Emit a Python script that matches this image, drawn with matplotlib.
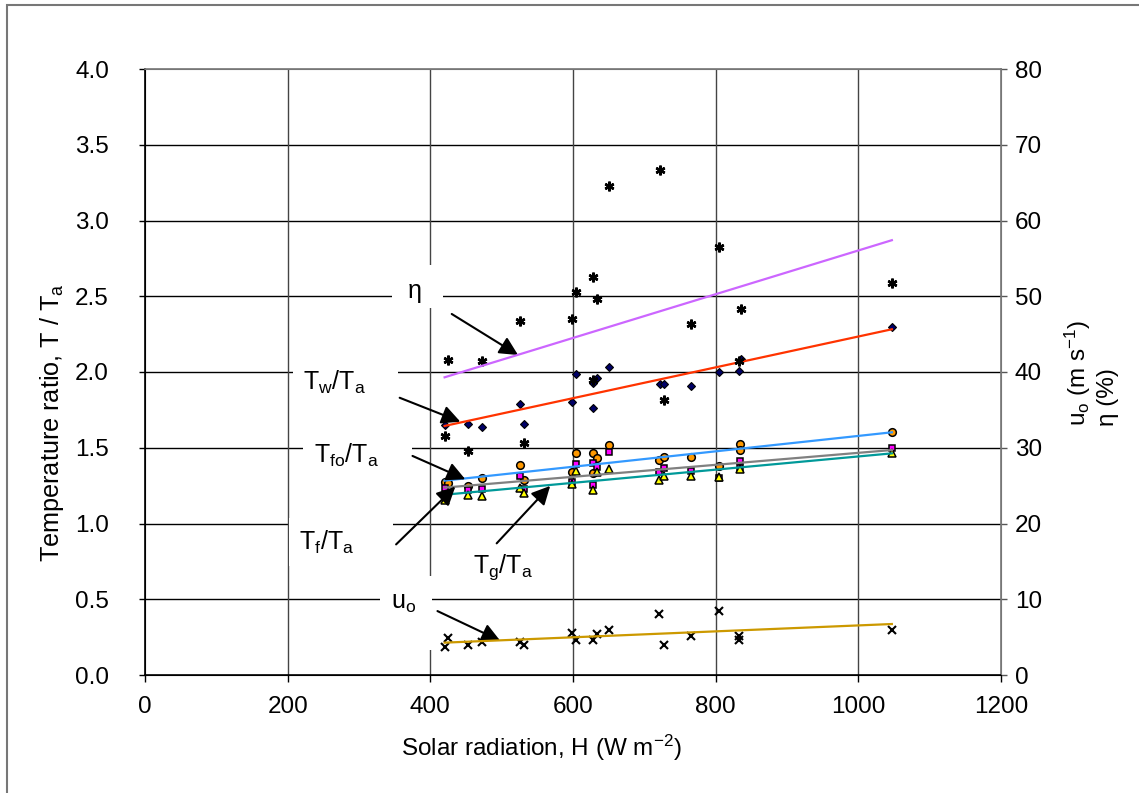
import numpy as np
import matplotlib
matplotlib.use("Agg")
import matplotlib.pyplot as plt
from matplotlib.patches import Rectangle

plt.rcParams['font.family'] = ['Liberation Sans', 'DejaVu Sans']
plt.rcParams['mathtext.fontset'] = 'custom'
plt.rcParams['mathtext.rm'] = 'Liberation Sans'
plt.rcParams['mathtext.it'] = 'Liberation Sans:italic'

# --- datos ---
# eficiencia (%) - eje derecho
x_eta = [420, 425, 453, 472, 525, 532, 598, 604, 628, 628, 634, 651, 722, 727, 766, 805, 833, 835, 1047]
eta = [31.6, 41.6, 29.6, 41.5, 46.7, 30.6, 47.0, 50.6, 52.5, 38.9, 49.6, 64.6, 66.7, 36.3, 46.4, 56.5, 41.4, 48.3, 51.7]

# T_w / T_a
x_tw = [420, 453, 472, 525, 532, 598, 604, 628, 628, 634, 651, 722, 727, 766, 805, 833, 835, 1047]
tw = [1.65, 1.66, 1.635, 1.786, 1.66, 1.804, 1.985, 1.93, 1.76, 1.963, 2.03, 1.92, 1.92, 1.91, 1.998, 2.009, 2.086, 2.30]

# T_fo / T_a
x_tfo = [420, 425, 453, 472, 525, 532, 598, 604, 628, 628, 634, 651, 721, 727, 766, 805, 834, 834, 1047]
tfo = [1.276, 1.265, 1.248, 1.298, 1.386, 1.287, 1.342, 1.468, 1.468, 1.336, 1.43, 1.518, 1.419, 1.441, 1.441, 1.38, 1.523, 1.485, 1.602]

# T_f / T_a
x_tf = [420, 453, 472, 525, 532, 598, 604, 628, 628, 634, 651, 721, 727, 766, 805, 834, 834, 1047]
tf = [1.232, 1.221, 1.228, 1.314, 1.226, 1.276, 1.393, 1.401, 1.254, 1.375, 1.47, 1.337, 1.364, 1.348, 1.298, 1.415, 1.364, 1.496]

# T_g / T_a
x_tg = [420, 453, 472, 525, 532, 598, 604, 628, 634, 651, 721, 727, 766, 805, 834, 1047]
tg = [1.155, 1.188, 1.182, 1.233, 1.2, 1.26, 1.346, 1.221, 1.342, 1.36, 1.29, 1.314, 1.314, 1.305, 1.36, 1.463]

# u_o (m/s) - eje derecho
x_u = [420, 425, 453, 472, 525, 532, 598, 604, 628, 634, 651, 721, 727, 766, 805, 833, 833, 1047]
u = [3.74, 4.84, 3.9, 4.4, 4.4, 3.9, 5.6, 4.6, 4.6, 5.4, 6.0, 8.1, 4.0, 5.1, 8.5, 5.1, 4.6, 6.0]

# lineas de tendencia (extremos)
x_fit = [420, 1047]
eta_fit = [39.3, 57.4]
tw_fit = [1.644, 2.282]
tfo_fit = [1.283, 1.602]
tf_fit = [1.237, 1.485]
tg_fit = [1.19, 1.463]
u_fit = [4.27, 6.73]

# --- figura ---
W, H = 1139, 793
X0, X1, Y0, Y1 = 145, 1001, 675, 69
fig = plt.figure(figsize=(W / 100, H / 100), dpi=100)
ax = fig.add_axes([X0 / W, 1 - Y0 / H, (X1 - X0) / W, (Y0 - Y1) / H])
ax2 = ax.twinx()


def px2data(px, py):
    return (px - X0) / (X1 - X0) * 1200, (Y0 - py) / (Y0 - Y1) * 4.0


fs = 17.5
ax.set_xlim(0, 1200)
ax.set_ylim(0, 4.0)
ax2.set_ylim(0, 80)
ax.set_xticks(np.arange(0, 1201, 200))
ax.set_yticks(np.arange(0, 4.01, 0.5))
ax.set_yticklabels([f"{v:.1f}" for v in np.arange(0, 4.01, 0.5)])
ax2.set_yticks(np.arange(0, 81, 10))

ax.tick_params(axis='y', direction='out', length=4, width=1, pad=22, labelsize=fs)
ax.tick_params(axis='x', direction='out', length=5, width=1, pad=10, labelsize=fs)
ax2.tick_params(axis='y', direction='out', length=4, width=1, pad=6, labelsize=fs, color='#555555')

for y in np.arange(0.5, 4.0, 0.5):
    ax.axhline(y, color='black', lw=1, zorder=0.5)
for x in np.arange(200, 1200, 200):
    ax.axvline(x, color='#444444', lw=1, zorder=0.5)

ax.spines['left'].set_color('black')
ax.spines['bottom'].set_color('black')
ax.spines['top'].set_color('#777777')
ax.spines['right'].set_color('#777777')
ax2.spines['right'].set_color('#777777')
ax2.spines['top'].set_color('#777777')
for s in ax.spines.values():
    s.set_linewidth(1.2)

# marcadores
ax.plot(x_tw, tw, ls='none', marker='D', ms=4.5, mfc='#000066', mec='black', mew=0.8, zorder=3)
ax.plot(x_tfo, tfo, ls='none', marker='o', ms=5.5, mfc='#FF9900', mec='black', mew=1.1, zorder=3)
ax.plot(x_tf, tf, ls='none', marker='s', ms=5, mfc='#FF00FF', mec='black', mew=1.1, zorder=3)
ax.plot(x_tg, tg, ls='none', marker='^', ms=5.5, mfc='#FFFF00', mec='black', mew=1.1, zorder=3)
ax2.plot(x_eta, eta, ls='none', marker=(6, 2, 0), ms=7, mec='black', mew=1.8, zorder=3)
ax2.plot(x_u, u, ls='none', marker='x', ms=5.5, mec='black', mew=1.5, zorder=3)

# tendencias
ax.plot(x_fit, tw_fit, color='#FF3300', lw=1.6, zorder=4)
ax.plot(x_fit, tfo_fit, color='#3399FF', lw=1.6, zorder=4)
ax.plot(x_fit, tf_fit, color='#808080', lw=1.6, zorder=4)
ax.plot(x_fit, tg_fit, color='#009999', lw=1.6, zorder=4)
ax2.plot(x_fit, eta_fit, color='#CC66FF', lw=1.6, zorder=4)
ax2.plot(x_fit, u_fit, color='#CC9900', lw=1.6, zorder=4)

# etiquetas con flechas: texto, centro (px), caja (px), flecha (datos)
lab_fs = 18
labels = [
    ('η', (415, 291), (392, 265, 443, 308), (430, 2.383, 523, 2.112)),
    (r'T$_\mathregular{w}$/T$_\mathregular{a}$', (335, 382), (293, 362, 398, 402), (357, 1.830, 442, 1.672)),
    (r'T$_\mathregular{fo}$/T$_\mathregular{a}$', (347, 455), (303, 435, 412, 476), (375, 1.446, 449, 1.292)),
    (r'T$_\mathregular{f}$/T$_\mathregular{a}$', (327, 542), (289, 518, 393, 566), (352, 0.862, 435, 1.243)),
    (r'T$_\mathregular{g}$/T$_\mathregular{a}$', (503, 567), (462, 547, 548, 590), (493, 0.869, 568, 1.248)),
    (r'u$_\mathregular{o}$', (404, 603), (380, 576, 432, 650), (410, 0.422, 498, 0.226)),
]
for txt, (cx, cy), (bx0, by0, bx1, by1), (x0, y0, x1, y1) in labels:
    rx0, ry1 = px2data(bx0, by0)
    rx1, ry0 = px2data(bx1, by1)
    ax.add_patch(Rectangle((rx0, ry0), rx1 - rx0, ry1 - ry0, fc='white', ec='none', zorder=1))
    tx, ty = px2data(cx, cy)
    ax.text(tx, ty, txt, fontsize=lab_fs, ha='center', va='center', zorder=2)
    ax.annotate('', xy=(x1, y1), xytext=(x0, y0),
                arrowprops=dict(arrowstyle='-|>', mutation_scale=28, lw=1.5, color='black',
                                shrinkA=0, shrinkB=0), zorder=6)

# titulos de ejes
fig.text(541 / W, 1 - 748 / H, r'Solar radiation, H (W m$^\mathregular{-2}$)', fontsize=fs,
         ha='center', va='center')
fig.text(52 / W, 1 - 283 / H, r'Temperature ratio, T / T$_\mathregular{a}$', fontsize=18.2,
         rotation=90, ha='center', va='top')
fig.text(1078 / W, 1 - 426 / H, r'u$_\mathregular{o}$ (m s$^\mathregular{-1}$)', fontsize=fs,
         rotation=90, ha='center', va='bottom')
fig.text(1108 / W, 1 - 426 / H, 'η (%)', fontsize=fs, rotation=90, ha='center', va='bottom')

# marco exterior
fig.patches.append(Rectangle((7 / W, -0.1), 1.2, 1 - 5 / H + 0.1, transform=fig.transFigure,
                             fill=False, ec='#777777', lw=1.5))

fig.savefig('out.png', dpi=100)
